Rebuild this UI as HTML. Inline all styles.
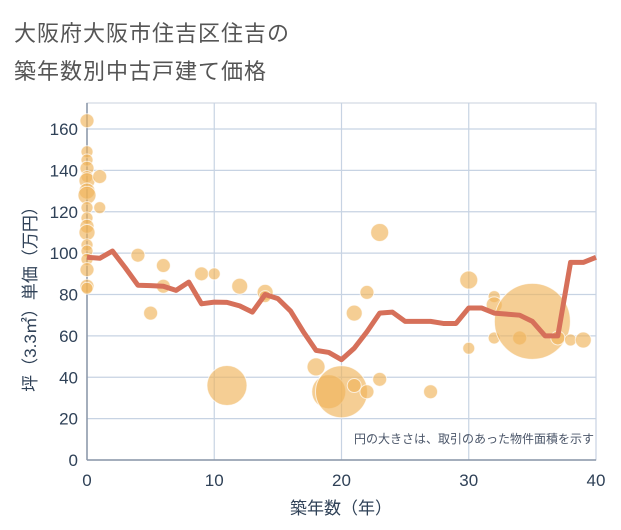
<!DOCTYPE html>
<html><head><meta charset="utf-8"><style>
body{margin:0;background:#fff;}
#wrap{position:relative;width:621px;height:530px;overflow:hidden;background:#fff;font-family:"Liberation Sans","Noto Sans CJK JP",sans-serif;}
.t{position:absolute;left:14px;font-size:22px;color:#555;letter-spacing:1px;}
</style></head><body>
<div id="wrap">
<div class="t" style="top:16px">大阪府大阪市住吉区住吉の</div>
<div class="t" style="top:54px">築年数別中古戸建て価格</div>
<svg id="chart" width="621" height="530" style="position:absolute;left:0;top:0"></svg>
</div>
<script>
const lineYears=[0,1,2,3,4,5,6,7,8,9,10,11,12,13,14,15,16,17,18,19,20,21,22,23,24,25,26,27,28,29,30,31,32,33,34,35,36,37,38,39,40];
const lineValues=[98,97.5,101,93,84.5,84.3,84,82,86,75.5,76.3,76.2,74.5,71.5,80,78,72,62,53,52,48.5,54,62,71,71.5,67,67,67,66,66,73.5,73.5,71,70.5,70,67,60,60,95.5,95.5,98];
const bubbleX=[0,0,0,0,0,0,0,0,0,0,0,0,0,0,0,0,0,0,1,1,4,5,6,6,9,10,11,12,14,14,18,19,20,21,22,22,23,23,27,30,30,32,32,32,34,35,37,38,39,21];
const bubbleY=[164,149,145,141,137,135,130,128,122,117,113,110,104,101,97,92,84,83,137,122,99,71,94,84,90,90,36,84,81,79,45,33,33,36,33,81,110,39,33,87,54,79,75,59,59,67,59,58,58,71];
const bubbleSize=[7,6,6,7,6,8,8,9,6,6,7,8,6,6,6,7,7,6,7,6,7,7,7,7,7,6,20,8,8,6,9,17,26,7,7,7,9,7,7,9,6,6,8,6,7,38,7,6,8,8];
const xTicks=[0,10,20,30,40];
const yTicks=[0,20,40,60,80,100,120,140,160];
const NS="http://www.w3.org/2000/svg";
const svg=document.getElementById('chart');
const L=87,R=596,T=103,B=460;
const xs=v=>L+(v/40)*(R-L);
const ys=v=>B-(v/160)*(460-129);
function mk(tag,attrs,parent){const e=document.createElementNS(NS,tag);for(const k in attrs)e.setAttribute(k,attrs[k]);(parent||svg).appendChild(e);return e;}
const frame=mk('rect',{x:L,y:T,width:R-L,height:B-T,fill:'#fff',stroke:'#c9d1dc','stroke-width':1});


yTicks.forEach(v=>{
 const g=mk('line',{x1:L,x2:R,y1:ys(v),y2:ys(v),stroke:'#c7d3e3','stroke-width':1.2});
 
 
 const t=mk('text',{x:78,y:ys(v)+6,'text-anchor':'end','font-size':17,fill:'#2f4157'});
 t.textContent=v;
 
 
});
xTicks.forEach(v=>{
 const g=mk('line',{x1:xs(v),x2:xs(v),y1:T,y2:B,stroke:'#c7d3e3','stroke-width':1.2});
 
 
 const t=mk('text',{x:xs(v),y:486,'text-anchor':'middle','font-size':17,fill:'#2f4157'});
 t.textContent=v;
 
 
});
const ax=mk('line',{x1:L,x2:L,y1:T,y2:B,stroke:'#8a96a8','stroke-width':1.5});


const bx=mk('line',{x1:L,x2:R,y1:B,y2:B,stroke:'#8a96a8','stroke-width':1.5});


bubbleX.forEach((x,i)=>{
 const c=mk('circle',{cx:xs(x),cy:ys(bubbleY[i]),r:bubbleSize[i],fill:'rgba(240,180,90,0.65)',stroke:'rgba(255,255,255,0.7)','stroke-width':1});
 
 
});
const pts=lineYears.map((x,i)=>xs(x)+','+ys(lineValues[i])).join(' ');
const pl=mk('polyline',{points:pts,fill:'none',stroke:'#d6705a','stroke-width':5,'stroke-linejoin':'round'});


const note=mk('text',{x:594,y:443,'text-anchor':'end','font-size':12,fill:'#4a5568'});
note.textContent='円の大きさは、取引のあった物件面積を示す';


const xt=mk('text',{x:341,y:514,'text-anchor':'middle','font-size':17,fill:'#2f4157'});
xt.textContent='築年数（年）';


const yt=mk('text',{x:0,y:0,'text-anchor':'middle','font-size':17,fill:'#2f4157',transform:'translate(36,295) rotate(-90)'});
yt.textContent='坪（3.3㎡）単価（万円）';


</script>
</body></html>
